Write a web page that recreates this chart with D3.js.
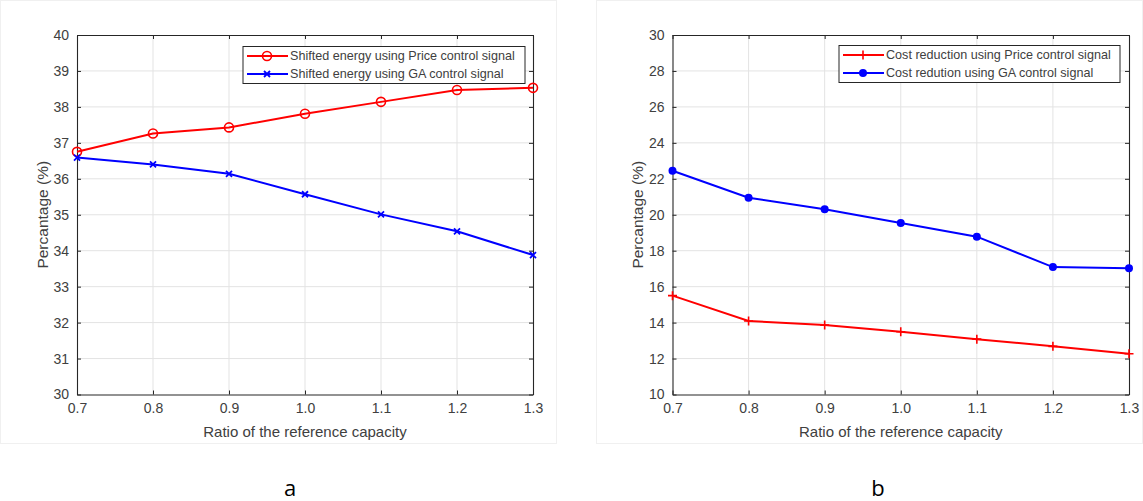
<!DOCTYPE html>
<html><head><meta charset="utf-8">
<script src="https://cdn.jsdelivr.net/npm/d3@7"></script>
<style>
html,body{margin:0;padding:0;background:#fff;}
svg{display:block;font-family:"Liberation Sans",Arial,sans-serif;}
</style></head>
<body><svg id="chart" width="1143" height="501"></svg>
<script>
const ratios = [0.7, 0.8, 0.9, 1.0, 1.1, 1.2, 1.3];
const xTicks = [0.7, 0.8, 0.9, 1.0, 1.1, 1.2, 1.3];
const shiftedPrice = [36.75, 37.26, 37.43, 37.81, 38.14, 38.47, 38.53];
const shiftedGA = [36.59, 36.40, 36.14, 35.57, 35.01, 34.54, 33.88];
const costPrice = [15.5, 14.09, 13.86, 13.49, 13.08, 12.68, 12.27];
const costGA = [22.45, 20.95, 20.30, 19.54, 18.78, 17.09, 17.02];
const yTicksA = [30, 31, 32, 33, 34, 35, 36, 37, 38, 39, 40];
const yTicksB = [10, 12, 14, 16, 18, 20, 22, 24, 26, 28, 30];
const legendA = ["Shifted energy using Price control signal", "Shifted energy using GA control signal"];
const legendB = ["Cost reduction using Price control signal", "Cost redution using GA control signal"];
const xLabel = "Ratio of the reference capacity";
const yLabel = "Percantage (%)";
const panelLabels = ["a", "b"];

const svg = d3.select("#chart");
const axisCol = "#262626", textCol = "#404040", gridCol = "#e3e3e3";

// faint panel frames
svg.append("rect").attr("x", 0.5).attr("y", 0.5).attr("width", 556).attr("height", 443)
  .attr("fill", "none").attr("stroke", "#f0f0f0");
svg.append("rect").attr("x", 596.5).attr("y", 0.5).attr("width", 546).attr("height", 443)
  .attr("fill", "none").attr("stroke", "#f0f0f0");

function panel(cfg) {
  const x = d3.scaleLinear().domain([0.7, 1.3]).range([cfg.left, cfg.right]);
  const y = d3.scaleLinear().domain(cfg.yDomain).range([cfg.bottom, cfg.top]);
  const g = svg.append("g");
  // grid
  g.append("g").selectAll("line").data(xTicks.slice(1, -1)).join("line")
    .attr("x1", d => x(d)).attr("x2", d => x(d)).attr("y1", cfg.top).attr("y2", cfg.bottom)
    .attr("stroke", gridCol).attr("stroke-width", 1);
  g.append("g").selectAll("line").data(cfg.yTicks.slice(1, -1)).join("line")
    .attr("y1", d => y(d)).attr("y2", d => y(d)).attr("x1", cfg.left).attr("x2", cfg.right)
    .attr("stroke", gridCol).attr("stroke-width", 1);
  // axes
  const ax = g.append("g").attr("transform", `translate(0,${cfg.bottom})`)
    .call(d3.axisBottom(x).tickValues(xTicks).tickFormat(d3.format(".1f")).tickSizeInner(-4).tickSizeOuter(0).tickPadding(9));
  const axT = g.append("g").attr("transform", `translate(0,${cfg.top})`)
    .call(d3.axisTop(x).tickValues(xTicks).tickFormat("").tickSizeInner(-4).tickSizeOuter(0));
  const ay = g.append("g").attr("transform", `translate(${cfg.left},0)`)
    .call(d3.axisLeft(y).tickValues(cfg.yTicks).tickSizeInner(-4).tickSizeOuter(0).tickPadding(8));
  const ayR = g.append("g").attr("transform", `translate(${cfg.right},0)`)
    .call(d3.axisRight(y).tickValues(cfg.yTicks).tickFormat("").tickSizeInner(-4).tickSizeOuter(0));
  [ax, axT, ay, ayR].forEach(a => {
    a.select(".domain").attr("stroke", axisCol).attr("stroke-width", 1.1);
    a.selectAll(".tick line").attr("stroke", axisCol);
    a.selectAll("text").attr("fill", textCol).attr("font-size", 14).attr("font-family", "Liberation Sans, Arial, sans-serif");
  });
  // labels
  g.append("text").attr("x", (cfg.left + cfg.right) / 2).attr("y", 437).attr("text-anchor", "middle")
    .attr("font-size", 15).attr("fill", textCol).text(xLabel);
  g.append("text").attr("transform", `translate(${cfg.ylabX},${(cfg.top + cfg.bottom) / 2}) rotate(-90)`)
    .attr("text-anchor", "middle").attr("dy", "0.35em")
    .attr("font-size", 15.5).attr("fill", textCol).text(yLabel);
  g.append("text").attr("x", cfg.panelX).attr("y", 496).attr("text-anchor", "middle")
    .attr("font-size", 22).attr("fill", "#000").attr("font-family", "Open Sans, sans-serif").text(cfg.panel);

  const line = d3.line().x((d, i) => x(ratios[i])).y(d => y(d));
  cfg.series.forEach(s => {
    g.append("path").datum(s.values).attr("d", line).attr("fill", "none")
      .attr("stroke", s.color).attr("stroke-width", 2);
    const pts = s.values.map((v, i) => [x(ratios[i]), y(v)]);
    drawMarkers(g, pts, s);
  });
  // legend
  const lg = g.append("g");
  lg.append("rect").attr("x", cfg.legX).attr("y", cfg.legY).attr("width", cfg.legW).attr("height", 37)
    .attr("fill", "#fff").attr("stroke", axisCol).attr("stroke-width", 1);
  cfg.series.forEach((s, i) => {
    const yy = cfg.legY + 9.5 + i * 18;
    lg.append("line").attr("x1", cfg.legX + 4).attr("x2", cfg.legX + 45).attr("y1", yy).attr("y2", yy)
      .attr("stroke", s.color).attr("stroke-width", 2);
    drawMarkers(lg, [[cfg.legX + 24, yy]], s);
    lg.append("text").attr("x", cfg.legX + 47).attr("y", yy).attr("dy", "0.35em")
      .attr("font-size", 12.6).attr("fill", textCol).text(cfg.legend[i]);
  });
}

function drawMarkers(g, pts, s) {
  pts.forEach(([px, py]) => {
    if (s.marker === "circle") {
      g.append("circle").attr("cx", px).attr("cy", py).attr("r", 4.5).attr("fill", "none")
        .attr("stroke", s.color).attr("stroke-width", 1.6);
    } else if (s.marker === "dot") {
      g.append("circle").attr("cx", px).attr("cy", py).attr("r", 4).attr("fill", s.color);
    } else if (s.marker === "x") {
      const r = 3;
      g.append("path").attr("d", `M${px - r},${py - r}L${px + r},${py + r}M${px - r},${py + r}L${px + r},${py - r}`)
        .attr("stroke", s.color).attr("stroke-width", 1.8);
    } else if (s.marker === "plus") {
      const r = 4.5;
      g.append("path").attr("d", `M${px - r},${py}L${px + r},${py}M${px},${py - r}L${px},${py + r}`)
        .attr("stroke", s.color).attr("stroke-width", 1.6);
    }
  });
}

panel({
  left: 77, right: 533, top: 35, bottom: 394.5, yDomain: [30, 40], yTicks: yTicksA,
  ylabX: 43, panelX: 290, panel: panelLabels[0],
  legX: 243, legY: 46.5, legW: 282, legend: legendA,
  series: [
    { values: shiftedPrice, color: "#ff0000", marker: "circle" },
    { values: shiftedGA, color: "#0000ff", marker: "x" }
  ]
});
panel({
  left: 672.5, right: 1129, top: 35, bottom: 394.5, yDomain: [10, 30], yTicks: yTicksB,
  ylabX: 638, panelX: 878, panel: panelLabels[1],
  legX: 839, legY: 45.5, legW: 281, legend: legendB,
  series: [
    { values: costPrice, color: "#ff0000", marker: "plus" },
    { values: costGA, color: "#0000ff", marker: "dot" }
  ]
});
</script></body></html>
